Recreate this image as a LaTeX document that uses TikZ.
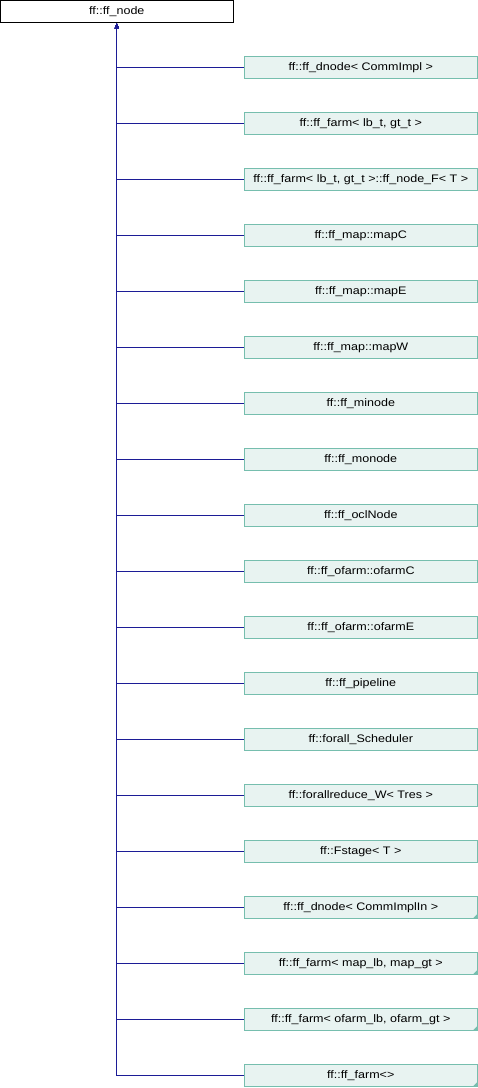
\documentclass[tikz,border=0pt]{standalone}
\usepackage{fontspec}
\setmainfont{Liberation Sans}[FakeStretch=1.15]
\usetikzlibrary{arrows.meta}
\definecolor{boxfill}{RGB}{232,243,241}
\definecolor{boxline}{RGB}{118,190,174}
\definecolor{edgecol}{RGB}{28,28,150}
\tikzset{
  basebox/.style={draw, line width=0.9pt, minimum width=233pt, minimum height=22.5pt, inner sep=0pt,
    font=\fontsize{10.9}{12}\selectfont},
  topbox/.style={basebox, draw=black, fill=white},
  childbox/.style={basebox, draw=boxline, fill=boxfill},
  edge/.style={draw=edgecol, line width=0.9pt},
  tipedge/.style={edge, -{Triangle[width=4pt,length=5pt]}},
  corner/.style={fill=boxline},
}
\begin{document}
\begin{tikzpicture}[x=1pt,y=1pt]
\useasboundingbox (0,0) rectangle (478,-1088);
\node[topbox] (top) at (116.8,-11.6) {ff::ff\_node};
\foreach \i/\t in {
  1/{ff::ff\_dnode< CommImpl >},
  2/{ff::ff\_farm< lb\_t, gt\_t >},
  3/{ff::ff\_farm< lb\_t, gt\_t >::ff\_node\_F< T >},
  4/{ff::ff\_map::mapC},
  5/{ff::ff\_map::mapE},
  6/{ff::ff\_map::mapW},
  7/{ff::ff\_minode},
  8/{ff::ff\_monode},
  9/{ff::ff\_oclNode},
  10/{ff::ff\_ofarm::ofarmC},
  11/{ff::ff\_ofarm::ofarmE},
  12/{ff::ff\_pipeline},
  13/{ff::forall\_Scheduler},
  14/{ff::forallreduce\_W< Tres >},
  15/{ff::Fstage< T >},
  16/{ff::ff\_dnode< CommImplIn >},
  17/{ff::ff\_farm< map\_lb, map\_gt >},
  18/{ff::ff\_farm< ofarm\_lb, ofarm\_gt >},
  19/{ff::ff\_farm<>}} {
  \node[childbox] (c\i) at (360.8,{-67.2-56*(\i-1)}) {\t};
  \draw[tipedge] (c\i.west) -| (top.south);
}
\foreach \i in {16,17,18,19} {
  \fill[corner] ([xshift=-0.45pt,yshift=0.45pt]c\i.south east) -- ++(-4.5,0) -- ++(4.5,4.5) -- cycle;
}
\end{tikzpicture}
\end{document}
